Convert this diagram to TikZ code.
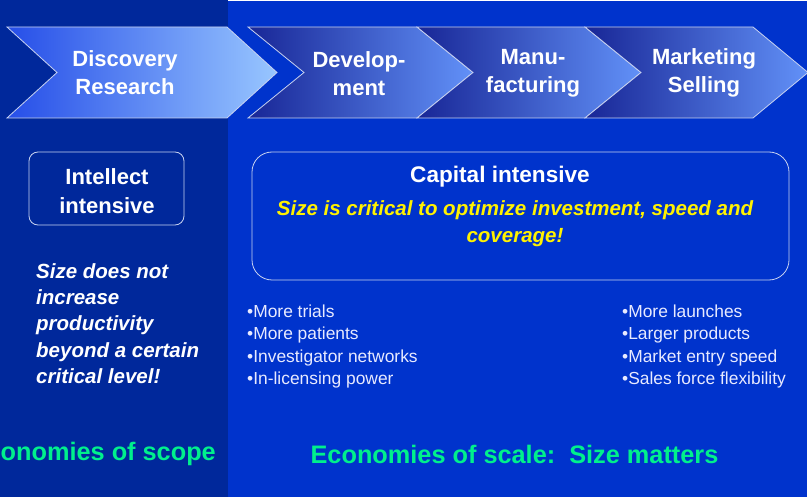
\documentclass[tikz,border=0pt]{standalone}
\usepackage{fontspec}
\setmainfont{Liberation Sans}
\definecolor{scopebg}{RGB}{0,40,155}
\definecolor{scalebg}{RGB}{0,51,204}
\definecolor{chevAL}{RGB}{38,78,232}
\definecolor{chevAR}{RGB}{152,198,255}
\definecolor{chevBL}{RGB}{24,38,150}
\definecolor{chevBR}{RGB}{98,145,248}
\definecolor{edgegray}{RGB}{200,210,240}
\definecolor{mottogreen}{RGB}{0,240,140}
\definecolor{bullettext}{RGB}{232,234,255}
\tikzset{
  chevfirst/.style={left color=chevAL, right color=chevAR, draw=edgegray, line width=0.8pt},
  chevnext/.style={left color=chevBL, right color=chevBR, draw=edgegray, line width=0.8pt},
  stagetext/.style={text=white, align=center, inner sep=0pt, font=\bfseries\fontsize{22}{28}\selectfont},
  framebox/.style={draw=edgegray, line width=0.8pt},
  bulletlist/.style={text=bullettext, align=left, anchor=west, inner sep=0pt, font=\fontsize{17.4}{22.3}\selectfont},
  mottotext/.style={text=mottogreen, inner sep=0pt, font=\bfseries\fontsize{25.3}{30}\selectfont}
}
\begin{document}
\begin{tikzpicture}[x=1pt,y=-1pt]
\useasboundingbox (0,0) rectangle (807,497);
\clip (0,0) rectangle (807,497);

% two backgrounds
\fill[color=scopebg] (0,0) rectangle (228,497);
\fill[color=scalebg] (228,1) rectangle (807,497);

% value chain
\shadedraw[chevfirst] (7,27) -- (227,27) -- (277,72.5) -- (227,118) -- (7,118) -- (57,72.5) -- cycle;
\node (discovery) at (125,73) [stagetext] {Discovery\\Research};

\shadedraw[chevnext] (248,27) -- (417,27) -- (473,72.5) -- (417,118) -- (248,118) -- (304,72.5) -- cycle;
\node (development) at (359,73.5) [stagetext] {Develop-\\ment};

\shadedraw[chevnext] (417,27) -- (585,27) -- (641,72.5) -- (585,118) -- (417,118) -- (473,72.5) -- cycle;
\node (manufacturing) at (533,73.5) [stagetext] {Manu-\\facturing};

\shadedraw[chevnext] (585,27) -- (753,27) -- (808,72.5) -- (753,118) -- (585,118) -- (641,72.5) -- cycle;
\node (marketing) at (704,73) [stagetext] {Marketing\\Selling};

% left side: scope
\draw[framebox, rounded corners=9pt] (29,152) rectangle (184,225);
\node (intellect) at (107,191) [stagetext, font=\bfseries\fontsize{22}{29}\selectfont] {Intellect\\intensive};

\node (sizenot) at (36,323.5) [anchor=west, align=left, text=white, inner sep=0pt,
  font=\bfseries\itshape\fontsize{20.5}{26.2}\selectfont]
  {Size does not\\increase\\productivity\\beyond a certain\\critical level!};

% right side: scale
\draw[framebox, rounded corners=20pt] (252,152) rectangle (789,280);
\node (capital) at (500,177) [stagetext, font=\bfseries\fontsize{22.6}{28}\selectfont] {Capital intensive};
\node (critical) at (515,223.5) [align=center, text=yellow, inner sep=0pt,
  font=\bfseries\itshape\fontsize{20.5}{27}\selectfont]
  {Size is critical to optimize investment, speed and\\coverage!};

\node (devlist) at (247,346.5) [bulletlist]
  {\textbullet More trials\\\textbullet More patients\\\textbullet Investigator networks\\\textbullet In-licensing power};
\node (mktlist) at (622,346.5) [bulletlist]
  {\textbullet More launches\\\textbullet Larger products\\\textbullet Market entry speed\\\textbullet Sales force flexibility};

% bottom lines
\node (scope) at (216,454) [mottotext, anchor=east] {Economies of scope};
\node (scale) at (514.5,454) [mottotext] {Economies of scale:\ \ Size matters};

\end{tikzpicture}
\end{document}
